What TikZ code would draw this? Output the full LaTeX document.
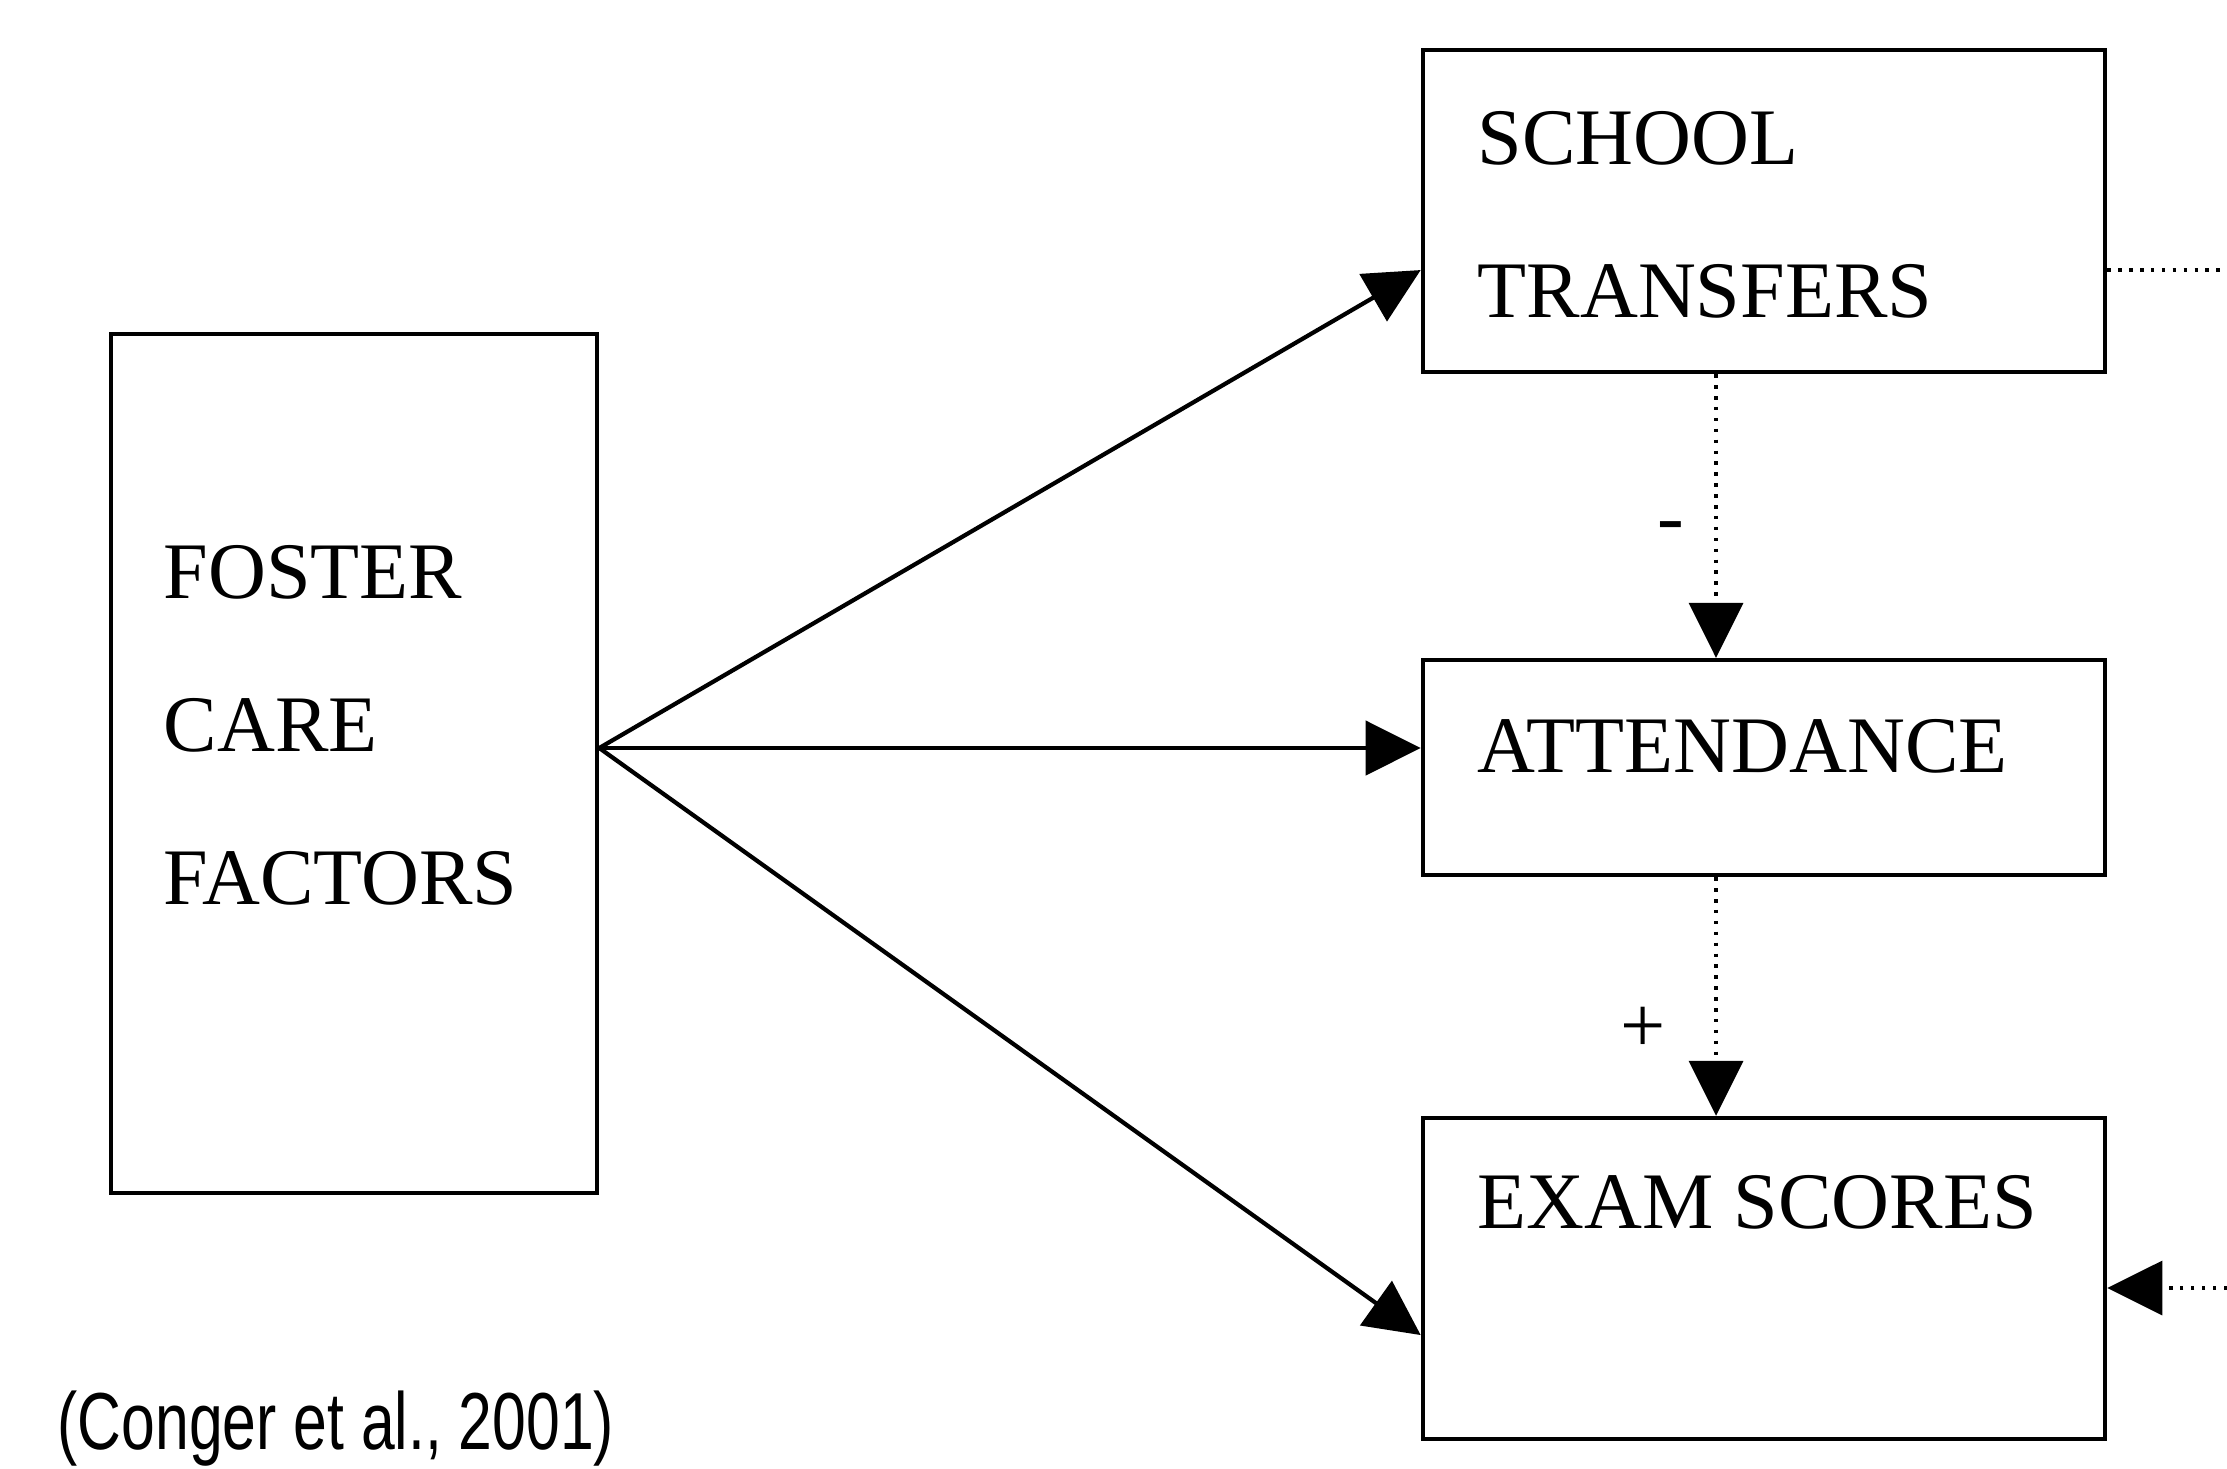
\documentclass[tikz,border=0pt]{standalone}
\usepackage{fontspec}
\setmainfont{Liberation Serif}
\newfontfamily\citefont{Liberation Sans}
\usetikzlibrary{arrows.meta}

\begin{document}
\begin{tikzpicture}[x=0.01cm, y=-0.01cm, > = {Triangle[length=5.5mm, width=5.4mm]}, box/.style = {draw, line width=1.2pt, inner sep=0pt}, label/.style = {anchor=north west, inner sep=0pt, align=left, font=\fontsize{22.8}{43.5}\selectfont}, link/.style = {line width=1.2pt, ->}, cue/.style = {line width=1pt, dash pattern=on 1pt off 2.1pt}]

    \useasboundingbox (0,0) rectangle (2227,1468);

    % boxes
    \node[box, minimum width=4.86cm, minimum height=8.59cm] (foster) at (354,763.5) {};
    \node[box, minimum width=6.82cm, minimum height=3.22cm] (transfers) at (1764,211) {};
    \node[box, minimum width=6.82cm, minimum height=2.15cm] (attendance) at (1764,767.5) {};
    \node[box, minimum width=6.82cm, minimum height=3.21cm] (exam) at (1764,1278.5) {};

    % texts
    \node[label] (fostertext) at (163,545) {FOSTER\\CARE\\FACTORS};
    \node[label] (transferstext) at (1477,111) {SCHOOL\\TRANSFERS};
    \node[label] (attendancetext) at (1477,719) {ATTENDANCE};
    \node[label] (examtext) at (1477,1175) {EXAM SCORES};
    \node[anchor=base west, inner sep=0pt] (source) at (57,1449) {\citefont\fontsize{23}{27}\selectfont\scalebox{0.75}[1]{(Conger et al., 2001)}};

    % links
    \coordinate (fc) at ([yshift=0.155cm]foster.east);
    \coordinate (vx) at (1716,0);
    \coordinate (out) at (2227,270);
    \coordinate (in) at (2227,1288);
    \draw[link] (fc) -- ([yshift=-0.59cm]transfers.west);
    \draw[link] (fc) -- (fc -| attendance.west);
    \draw[link] (fc) -- ([yshift=-0.565cm]exam.west);

    \draw[cue, ->] (transfers.south -| vx) -- (attendance.north -| vx) node[pos=0.56, left=0.18cm, font=\fontsize{22.8}{27}\selectfont] (minus) {-};
    \draw[cue, ->] (attendance.south -| vx) -- (exam.north -| vx) node[pos=0.64, left=0.37cm, font=\fontsize{22.8}{27}\selectfont] (plus) {+};
    \draw[cue] (transfers.east |- out) -- (out);
    \draw[cue, ->] (in) -- (exam.east |- in);

\end{tikzpicture}
\end{document}
